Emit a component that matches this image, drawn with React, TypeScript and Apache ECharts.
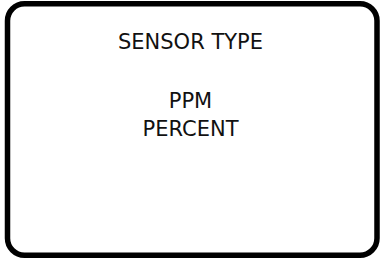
import React, { useEffect, useRef } from "react";
import * as echarts from "echarts";

const titleLines = ["SENSOR TYPE"];
const optionLines = ["PPM", "PERCENT"];

export default function App() {
  const ref = useRef<HTMLDivElement>(null);
  useEffect(() => {
    if (!ref.current) return;
    const chart = echarts.init(ref.current, null, { renderer: "svg" });
    const font = "DejaVu Sans";
    const textStyle = (t: string, y: number) => ({
      type: "text",
      x: 190.5,
      y,
      style: {
        text: t,
        fill: "#111",
        font: `21px "${font}"`,
        textAlign: "center",
        textVerticalAlign: "middle",
      },
    });
    const elements: any[] = [
      {
        type: "rect",
        shape: { x: 7.5, y: 3.75, width: 369.5, height: 251.5, r: 17 },
        style: { fill: "#fff", stroke: "#000", lineWidth: 5.5 },
      },
      ...titleLines.map((t, i) => textStyle(t, 42 + i * 28)),
      ...optionLines.map((t, i) => textStyle(t, 101 + i * 28)),
    ];
    chart.setOption({
      animation: false,
      graphic: { elements },
    });
    return () => chart.dispose();
  }, []);
  return (
    <div
      ref={ref}
      style={{ position: "fixed", left: 0, top: 0, width: 382, height: 259, background: "#fff" }}
    />
  );
}
